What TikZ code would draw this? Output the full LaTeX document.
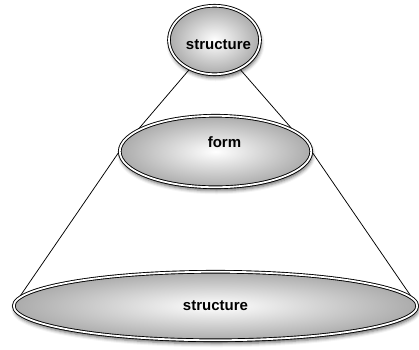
\documentclass[tikz,border=0pt]{standalone}
\usepackage{fontspec}
\setmainfont{Liberation Sans}
\usetikzlibrary{shapes.geometric,shadows.blur}
\pgfdeclarelayer{back}
\pgfsetlayers{back,main}
\begin{document}
\begin{tikzpicture}[x=1pt,y=-1pt,
  disc/.style={ellipse, inner sep=0pt, shading=radial, inner color=white, outer color=black!33,
    draw=black, line width=0.9pt, double=white, double distance=1.8pt,
    blur shadow={shadow xshift=1pt, shadow yshift=-3.5pt, shadow blur radius=3.5pt, shadow opacity=60}},
  word/.style={font=\fontsize{15}{18}\selectfont\bfseries},
  cone/.style={draw=black, line width=0.75pt}]
\useasboundingbox (0,0) rectangle (419,349);
\node[disc, minimum width=91pt, minimum height=68.5pt,
  label={[word, xshift=4pt, yshift=-4.5pt]center:structure}] (top) at (214.5,40) {};
\node[disc, minimum width=191.5pt, minimum height=71.5pt,
  label={[word, xshift=9pt, yshift=9pt]center:form}] (mid) at (215.5,151.5) {};
\node[disc, word, minimum width=403.5pt, minimum height=68.5pt] (bot) at (215.5,306) {structure};
\begin{pgfonlayer}{back}
\draw[cone] (top.center) -- (mid.west) -- (bot.west);
\draw[cone] (top.center) -- (mid.east) -- (bot.east);
\end{pgfonlayer}
\end{tikzpicture}
\end{document}
